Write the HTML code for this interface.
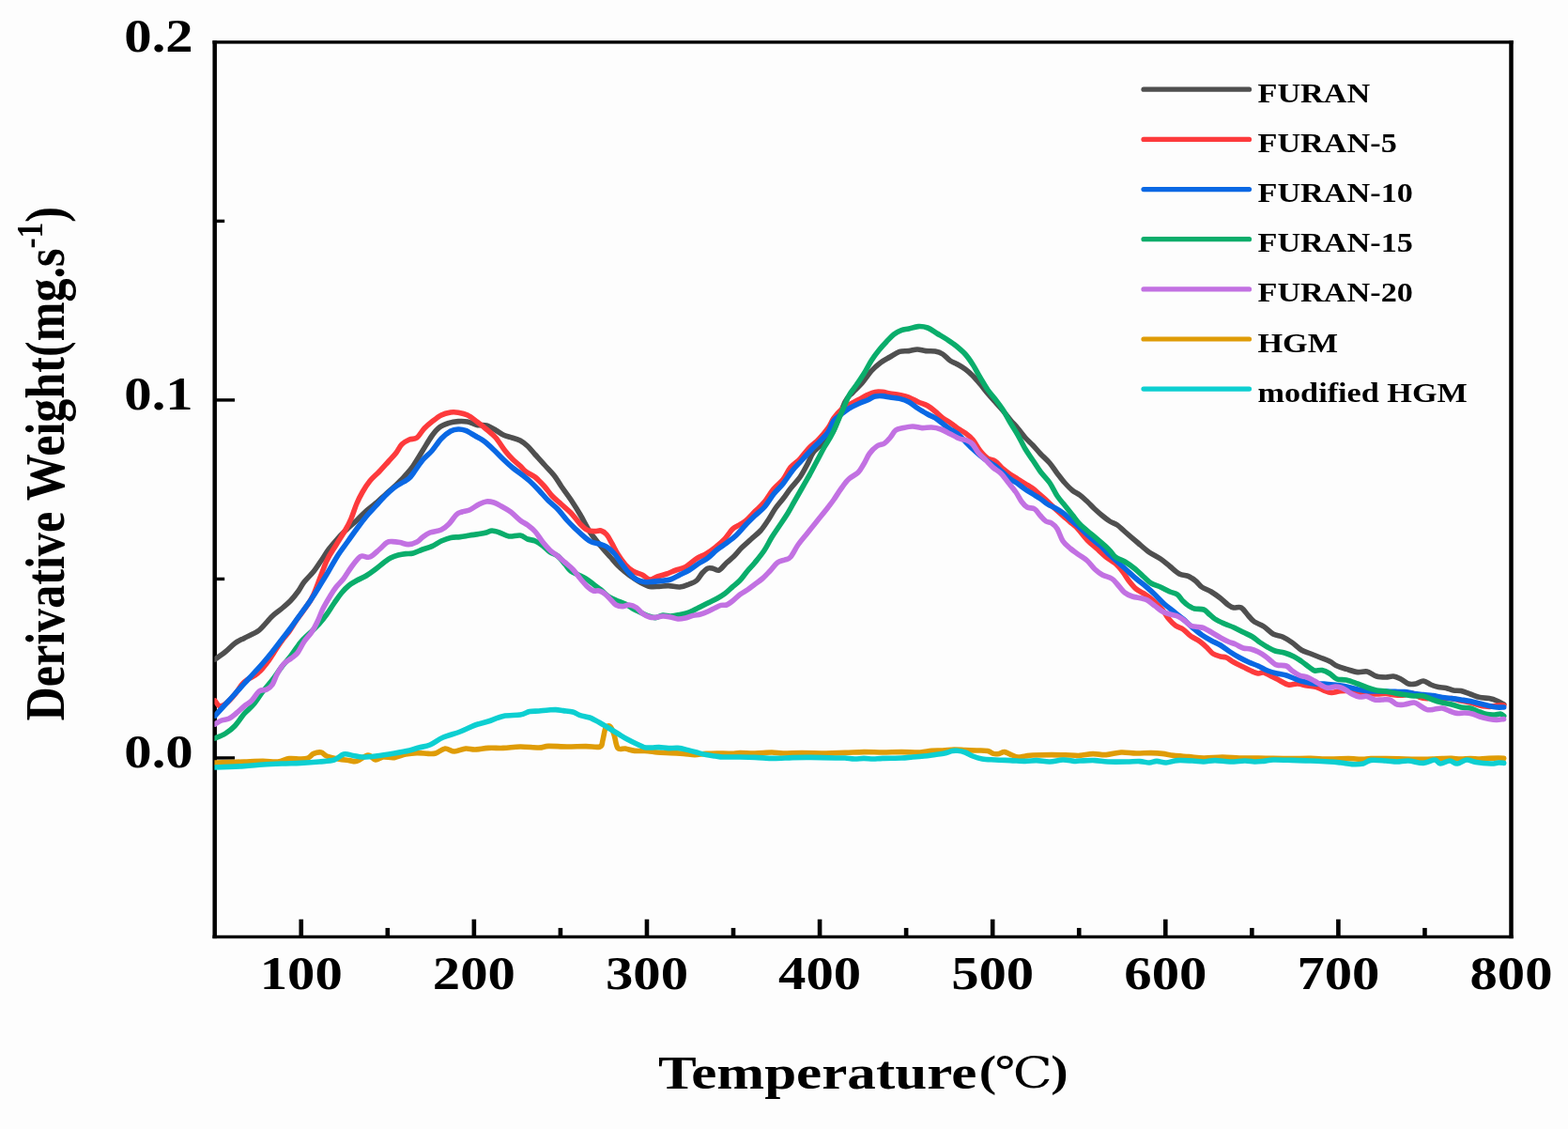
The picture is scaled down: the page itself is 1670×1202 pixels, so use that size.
<!DOCTYPE html>
<html lang="en"><head><meta charset="utf-8"><title>Derivative Weight vs Temperature</title>
<style>html,body{margin:0;padding:0;background:#fdfdfd;}body{width:1670px;height:1202px;overflow:hidden;}svg{display:block;}text{font-family:"Liberation Serif","Noto Serif CJK SC",serif;font-weight:bold;fill:#000;}</style></head><body>
<svg width="1670" height="1202" viewBox="0 0 1670 1202">
<rect width="1670" height="1202" fill="#fdfdfd"/>
<g fill="#000">
<rect x="226.45" y="43.20" width="4.50" height="955.95"/>
<rect x="1607.25" y="43.20" width="4.50" height="955.95"/>
<rect x="226.45" y="43.20" width="1385.30" height="3.40"/>
<rect x="226.45" y="995.75" width="1385.30" height="3.40"/>
<rect x="318.45" y="978.75" width="4.60" height="18.70"/>
<rect x="410.51" y="987.95" width="4.60" height="9.50"/>
<rect x="502.56" y="978.75" width="4.60" height="18.70"/>
<rect x="594.61" y="987.95" width="4.60" height="9.50"/>
<rect x="686.67" y="978.75" width="4.60" height="18.70"/>
<rect x="778.72" y="987.95" width="4.60" height="9.50"/>
<rect x="870.77" y="978.75" width="4.60" height="18.70"/>
<rect x="962.83" y="987.95" width="4.60" height="9.50"/>
<rect x="1054.88" y="978.75" width="4.60" height="18.70"/>
<rect x="1146.93" y="987.95" width="4.60" height="9.50"/>
<rect x="1238.99" y="978.75" width="4.60" height="18.70"/>
<rect x="1331.04" y="987.95" width="4.60" height="9.50"/>
<rect x="1423.09" y="978.75" width="4.60" height="18.70"/>
<rect x="1515.15" y="987.95" width="4.60" height="9.50"/>
<rect x="228.70" y="805.24" width="21.30" height="3.40"/>
<rect x="228.70" y="614.73" width="10.50" height="3.40"/>
<rect x="228.70" y="424.22" width="21.30" height="3.40"/>
<rect x="228.70" y="233.71" width="10.50" height="3.40"/>
</g>
<clipPath id="c"><rect x="228.4" y="44.9" width="1381.1" height="952.6"/></clipPath>
<g clip-path="url(#c)" fill="none" stroke-width="5.6" stroke-linejoin="round" stroke-linecap="round">
<path d="M229.0 702.0C230.8 700.7 236.5 696.8 240.0 694.0C243.5 691.2 246.7 687.4 250.0 685.0C253.3 682.6 256.0 681.5 260.0 679.4C264.0 677.3 270.7 674.5 274.0 672.4C277.3 670.3 277.3 669.7 280.0 667.0C282.7 664.3 286.7 659.2 290.0 656.0C293.3 652.8 296.8 650.8 300.0 648.0C303.2 645.2 306.5 642.7 309.5 639.5C312.5 636.3 315.6 632.3 318.0 629.0C320.4 625.7 321.3 622.9 324.0 619.5C326.7 616.1 331.0 612.2 334.0 608.5C337.0 604.8 339.3 600.9 342.0 597.0C344.7 593.1 347.0 589.0 350.0 585.0C353.0 581.0 356.7 576.7 360.0 573.0C363.3 569.3 366.7 566.2 370.0 563.0C373.3 559.8 376.7 557.2 380.0 554.0C383.3 550.8 386.7 547.0 390.0 544.0C393.3 541.0 396.7 538.8 400.0 536.0C403.3 533.2 406.7 530.0 410.0 527.0C413.3 524.0 416.7 521.2 420.0 518.0C423.3 514.8 426.7 511.7 430.0 508.0C433.3 504.3 436.7 500.7 440.0 496.0C443.3 491.3 446.7 485.3 450.0 480.0C453.3 474.7 457.0 468.2 460.0 464.0C463.0 459.8 465.0 457.3 468.0 455.0C471.0 452.7 474.7 451.5 478.0 450.4C481.3 449.3 484.7 448.8 488.0 448.6C491.3 448.4 494.7 448.4 498.0 449.0C501.3 449.6 504.7 451.7 508.0 452.4C511.3 453.1 514.7 452.1 518.0 453.0C521.3 453.9 525.0 456.3 528.0 458.0C531.0 459.7 533.3 461.7 536.0 463.0C538.7 464.3 541.0 464.6 544.0 465.6C547.0 466.6 551.0 467.4 554.0 469.0C557.0 470.6 559.3 472.5 562.0 475.0C564.7 477.5 567.0 480.7 570.0 484.0C573.0 487.3 576.7 491.3 580.0 495.0C583.3 498.7 587.0 502.2 590.0 506.0C593.0 509.8 595.0 513.7 598.0 518.0C601.0 522.3 604.7 527.0 608.0 532.0C611.3 537.0 614.7 542.3 618.0 548.0C621.3 553.7 625.3 561.7 628.0 566.0C630.7 570.3 631.7 571.0 634.0 574.0C636.3 577.0 639.3 580.8 642.0 584.0C644.7 587.2 647.3 590.0 650.0 593.0C652.7 596.0 655.3 599.3 658.0 602.0C660.7 604.7 663.3 606.8 666.0 609.0C668.7 611.2 671.3 613.2 674.0 615.0C676.7 616.8 679.0 618.4 682.0 620.0C685.0 621.6 688.7 623.7 692.0 624.4C695.3 625.1 698.7 624.5 702.0 624.4C705.3 624.3 708.3 623.5 712.0 623.6C715.7 623.7 720.3 625.3 724.0 625.0C727.7 624.7 731.0 623.2 734.0 622.0C737.0 620.8 739.7 620.0 742.0 618.0C744.3 616.0 746.0 612.2 748.0 610.0C750.0 607.8 752.0 605.8 754.0 605.0C756.0 604.2 758.0 605.1 760.0 605.4C762.0 605.7 763.7 608.1 766.0 607.0C768.3 605.9 771.3 601.5 774.0 599.0C776.7 596.5 779.3 594.7 782.0 592.0C784.7 589.3 787.0 586.0 790.0 583.0C793.0 580.0 796.7 577.0 800.0 574.0C803.3 571.0 807.0 568.3 810.0 565.0C813.0 561.7 815.3 558.0 818.0 554.0C820.7 550.0 823.3 544.8 826.0 541.0C828.7 537.2 831.3 534.5 834.0 531.0C836.7 527.5 839.0 523.8 842.0 520.0C845.0 516.2 849.0 512.3 852.0 508.0C855.0 503.7 857.7 498.3 860.0 494.0C862.3 489.7 863.7 485.3 866.0 482.0C868.3 478.7 871.3 477.0 874.0 474.0C876.7 471.0 879.7 466.7 882.0 464.0C884.3 461.3 885.0 464.0 888.0 458.0C891.0 452.0 896.7 434.7 900.0 428.0C903.3 421.3 905.0 421.3 908.0 418.0C911.0 414.7 914.7 411.8 918.0 408.0C921.3 404.2 924.7 398.7 928.0 395.0C931.3 391.3 934.7 388.5 938.0 386.0C941.3 383.5 944.7 381.9 948.0 380.0C951.3 378.1 954.7 375.5 958.0 374.4C961.3 373.3 964.8 374.0 968.0 373.6C971.2 373.2 974.0 372.0 977.0 372.0C980.0 372.0 982.8 373.3 986.0 373.6C989.2 373.9 993.0 373.4 996.0 374.0C999.0 374.6 1001.3 375.3 1004.0 377.0C1006.7 378.7 1009.3 382.2 1012.0 384.0C1014.7 385.8 1017.3 386.5 1020.0 388.0C1022.7 389.5 1025.3 391.0 1028.0 393.0C1030.7 395.0 1033.3 397.3 1036.0 400.0C1038.7 402.7 1041.3 405.8 1044.0 409.0C1046.7 412.2 1049.3 415.8 1052.0 419.0C1054.7 422.2 1057.3 425.0 1060.0 428.0C1062.7 431.0 1065.3 433.8 1068.0 437.0C1070.7 440.2 1073.3 443.8 1076.0 447.0C1078.7 450.2 1081.3 452.8 1084.0 456.0C1086.7 459.2 1089.3 463.0 1092.0 466.0C1094.7 469.0 1097.3 471.2 1100.0 474.0C1102.7 476.8 1105.0 479.8 1108.0 483.0C1111.0 486.2 1115.0 489.5 1118.0 493.0C1121.0 496.5 1123.3 500.5 1126.0 504.0C1128.7 507.5 1131.3 511.0 1134.0 514.0C1136.7 517.0 1139.3 519.8 1142.0 522.0C1144.7 524.2 1147.3 525.0 1150.0 527.0C1152.7 529.0 1155.3 531.5 1158.0 534.0C1160.7 536.5 1163.3 539.5 1166.0 542.0C1168.7 544.5 1171.3 546.8 1174.0 549.0C1176.7 551.2 1179.3 553.3 1182.0 555.0C1184.7 556.7 1187.3 557.2 1190.0 559.0C1192.7 560.8 1194.3 562.8 1198.0 566.0C1201.7 569.2 1207.7 574.3 1212.0 578.0C1216.3 581.7 1220.0 585.2 1224.0 588.0C1228.0 590.8 1232.3 592.5 1236.0 595.0C1239.7 597.5 1242.7 600.3 1246.0 603.0C1249.3 605.7 1252.7 609.2 1256.0 611.0C1259.3 612.8 1263.0 612.3 1266.0 613.6C1269.0 614.9 1271.7 617.1 1274.0 619.0C1276.3 620.9 1277.3 623.2 1280.0 625.0C1282.7 626.8 1286.7 628.0 1290.0 630.0C1293.3 632.0 1297.0 634.7 1300.0 637.0C1303.0 639.3 1305.7 642.3 1308.0 644.0C1310.3 645.7 1311.7 646.5 1314.0 647.0C1316.3 647.5 1319.3 645.5 1322.0 647.0C1324.7 648.5 1327.7 653.5 1330.0 656.0C1332.3 658.5 1333.3 660.2 1336.0 662.0C1338.7 663.8 1342.7 664.8 1346.0 667.0C1349.3 669.2 1352.7 673.2 1356.0 675.0C1359.3 676.8 1362.7 676.5 1366.0 678.0C1369.3 679.5 1372.7 681.7 1376.0 684.0C1379.3 686.3 1382.7 690.0 1386.0 692.0C1389.3 694.0 1392.7 694.7 1396.0 696.0C1399.3 697.3 1402.7 698.7 1406.0 700.0C1409.3 701.3 1413.0 702.5 1416.0 704.0C1419.0 705.5 1421.0 707.6 1424.0 709.0C1427.0 710.4 1430.3 711.3 1434.0 712.4C1437.7 713.5 1442.3 715.2 1446.0 715.6C1449.7 716.0 1452.7 714.3 1456.0 715.0C1459.3 715.7 1462.7 719.0 1466.0 720.0C1469.3 721.0 1473.0 721.0 1476.0 721.0C1479.0 721.0 1481.3 719.7 1484.0 720.0C1486.7 720.3 1489.3 721.7 1492.0 723.0C1494.7 724.3 1497.3 727.2 1500.0 728.0C1502.7 728.8 1505.3 728.5 1508.0 728.0C1510.7 727.5 1513.3 724.8 1516.0 725.0C1518.7 725.2 1521.3 727.9 1524.0 729.0C1526.7 730.1 1529.3 731.0 1532.0 731.6C1534.7 732.2 1537.3 731.8 1540.0 732.4C1542.7 733.0 1545.3 734.5 1548.0 735.0C1550.7 735.5 1553.0 734.9 1556.0 735.6C1559.0 736.3 1562.7 737.9 1566.0 739.0C1569.3 740.1 1572.7 741.6 1576.0 742.4C1579.3 743.2 1583.0 743.0 1586.0 743.6C1589.0 744.2 1591.4 744.9 1594.0 746.0C1596.6 747.1 1600.4 749.3 1601.7 750.0" stroke="#4f4f4f"/>
<path d="M229.0 746.0C229.8 746.9 231.8 751.0 233.6 751.6C235.4 752.2 237.3 751.6 240.0 749.6C242.7 747.6 247.0 743.0 250.0 739.4C253.0 735.8 255.7 730.9 258.0 728.2C260.3 725.5 261.7 724.8 264.0 723.2C266.3 721.6 269.8 720.3 272.0 718.8C274.2 717.3 275.7 715.7 277.0 714.4C278.3 713.1 278.5 713.0 280.0 711.2C281.5 709.4 284.3 705.9 286.0 703.6C287.7 701.3 288.7 699.7 290.0 697.6C291.3 695.5 292.2 694.0 294.0 691.2C295.8 688.4 298.7 684.1 301.0 681.0C303.3 677.9 305.5 675.9 308.0 672.4C310.5 668.9 313.3 663.9 316.0 660.0C318.7 656.1 321.0 653.5 324.0 649.0C327.0 644.5 330.1 641.6 334.0 633.0C337.9 624.4 343.8 606.3 347.7 597.6C351.6 589.0 354.1 586.6 357.5 581.0C360.9 575.4 365.2 568.8 368.0 564.0C370.8 559.2 372.0 556.7 374.0 552.0C376.0 547.3 378.0 540.7 380.0 536.0C382.0 531.3 383.7 528.0 386.0 524.0C388.3 520.0 391.0 515.7 394.0 512.0C397.0 508.3 400.7 505.5 404.0 502.0C407.3 498.5 411.0 494.3 414.0 491.0C417.0 487.7 419.7 485.0 422.0 482.0C424.3 479.0 425.7 475.3 428.0 473.0C430.3 470.7 433.3 469.2 436.0 468.0C438.7 466.8 441.3 468.0 444.0 466.0C446.7 464.0 449.3 458.8 452.0 456.0C454.7 453.2 457.0 451.3 460.0 449.0C463.0 446.7 466.7 443.7 470.0 442.0C473.3 440.3 477.0 439.5 480.0 439.0C483.0 438.5 485.0 438.7 488.0 439.2C491.0 439.7 494.7 440.4 498.0 442.0C501.3 443.6 504.7 446.5 508.0 449.0C511.3 451.5 514.7 454.2 518.0 457.0C521.3 459.8 524.7 462.2 528.0 466.0C531.3 469.8 535.0 476.2 538.0 480.0C541.0 483.8 543.3 486.3 546.0 489.0C548.7 491.7 551.7 493.8 554.0 496.0C556.3 498.2 557.3 500.0 560.0 502.0C562.7 504.0 566.7 505.3 570.0 508.0C573.3 510.7 577.0 514.7 580.0 518.0C583.0 521.3 585.0 524.8 588.0 528.0C591.0 531.2 594.7 534.0 598.0 537.0C601.3 540.0 604.7 542.5 608.0 546.0C611.3 549.5 615.0 554.9 618.0 558.0C621.0 561.1 623.3 563.3 626.0 564.6C628.7 565.9 631.7 565.5 634.0 565.6C636.3 565.7 638.0 564.4 640.0 565.0C642.0 565.6 644.0 566.7 646.0 569.0C648.0 571.3 650.0 575.5 652.0 579.0C654.0 582.5 655.7 586.3 658.0 590.0C660.3 593.7 663.3 598.0 666.0 601.0C668.7 604.0 671.0 606.2 674.0 608.0C677.0 609.8 681.0 610.5 684.0 612.0C687.0 613.5 689.3 616.7 692.0 617.0C694.7 617.3 697.0 615.0 700.0 614.0C703.0 613.0 706.7 612.2 710.0 611.0C713.3 609.8 716.7 608.2 720.0 607.0C723.3 605.8 726.3 605.7 730.0 603.6C733.7 601.5 738.3 596.9 742.0 594.6C745.7 592.3 748.7 591.6 752.0 589.6C755.3 587.6 758.7 585.3 762.0 582.6C765.3 579.9 769.0 576.8 772.0 573.6C775.0 570.4 777.7 565.9 780.0 563.6C782.3 561.3 783.7 561.1 786.0 559.6C788.3 558.1 791.0 557.1 794.0 554.6C797.0 552.1 800.7 547.9 804.0 544.6C807.3 541.3 810.7 538.6 814.0 534.6C817.3 530.6 820.7 524.6 824.0 520.6C827.3 516.6 831.0 514.4 834.0 510.6C837.0 506.8 839.0 501.3 842.0 497.6C845.0 493.9 848.7 492.1 852.0 488.6C855.3 485.1 858.7 480.1 862.0 476.6C865.3 473.1 868.7 471.1 872.0 467.6C875.3 464.1 879.3 459.3 882.0 455.6C884.7 451.9 885.7 448.4 888.0 445.2C890.3 442.0 893.3 438.6 896.0 436.2C898.7 433.8 901.0 432.7 904.0 431.0C907.0 429.3 910.7 427.6 914.0 425.8C917.3 424.0 921.0 421.8 924.0 420.4C927.0 419.0 929.3 417.9 932.0 417.4C934.7 416.9 937.3 417.1 940.0 417.4C942.7 417.7 945.0 418.5 948.0 419.0C951.0 419.5 954.7 419.7 958.0 420.4C961.3 421.1 964.7 421.7 968.0 423.0C971.3 424.3 974.7 426.5 978.0 428.0C981.3 429.5 985.0 430.3 988.0 432.0C991.0 433.7 993.3 435.8 996.0 438.0C998.7 440.2 1001.3 443.0 1004.0 445.0C1006.7 447.0 1009.3 448.2 1012.0 450.0C1014.7 451.8 1017.3 454.2 1020.0 456.0C1022.7 457.8 1025.3 459.0 1028.0 461.0C1030.7 463.0 1033.3 464.8 1036.0 468.0C1038.7 471.2 1041.3 476.7 1044.0 480.0C1046.7 483.3 1049.3 486.2 1052.0 488.0C1054.7 489.8 1057.3 489.2 1060.0 491.0C1062.7 492.8 1065.3 496.7 1068.0 499.0C1070.7 501.3 1073.3 503.2 1076.0 505.0C1078.7 506.8 1081.3 508.3 1084.0 510.0C1086.7 511.7 1089.3 513.3 1092.0 515.0C1094.7 516.7 1097.3 518.0 1100.0 520.0C1102.7 522.0 1105.3 524.7 1108.0 527.0C1110.7 529.3 1113.3 531.5 1116.0 534.0C1118.7 536.5 1121.3 539.5 1124.0 542.0C1126.7 544.5 1129.3 546.7 1132.0 549.0C1134.7 551.3 1137.3 553.7 1140.0 556.0C1142.7 558.3 1145.0 559.8 1148.0 563.0C1151.0 566.2 1154.7 571.5 1158.0 575.0C1161.3 578.5 1164.7 581.0 1168.0 584.0C1171.3 587.0 1174.7 590.3 1178.0 593.0C1181.3 595.7 1185.0 597.3 1188.0 600.0C1191.0 602.7 1193.7 606.0 1196.0 609.0C1198.3 612.0 1199.7 615.0 1202.0 618.0C1204.3 621.0 1207.0 624.5 1210.0 627.0C1213.0 629.5 1217.0 631.0 1220.0 633.0C1223.0 635.0 1225.0 636.3 1228.0 639.0C1231.0 641.7 1235.3 645.8 1238.0 649.0C1240.7 652.2 1241.7 655.2 1244.0 658.0C1246.3 660.8 1249.3 664.0 1252.0 666.0C1254.7 668.0 1257.3 668.2 1260.0 670.0C1262.7 671.8 1265.0 674.8 1268.0 677.0C1271.0 679.2 1275.0 680.8 1278.0 683.0C1281.0 685.2 1283.7 687.8 1286.0 690.0C1288.3 692.2 1289.7 694.5 1292.0 696.0C1294.3 697.5 1297.7 698.3 1300.0 699.0C1302.3 699.7 1303.7 699.0 1306.0 700.0C1308.3 701.0 1311.0 703.3 1314.0 705.0C1317.0 706.7 1321.0 708.5 1324.0 710.0C1327.0 711.5 1329.3 712.8 1332.0 714.0C1334.7 715.2 1337.7 716.7 1340.0 717.0C1342.3 717.3 1343.7 715.5 1346.0 716.0C1348.3 716.5 1351.3 718.7 1354.0 720.0C1356.7 721.3 1359.0 722.5 1362.0 724.0C1365.0 725.5 1368.7 728.3 1372.0 729.0C1375.3 729.7 1378.7 727.8 1382.0 728.0C1385.3 728.2 1388.7 729.4 1392.0 730.0C1395.3 730.6 1399.0 730.8 1402.0 731.6C1405.0 732.4 1407.3 734.0 1410.0 735.0C1412.7 736.0 1415.3 737.2 1418.0 737.4C1420.7 737.6 1423.2 736.3 1426.0 736.0C1428.8 735.7 1431.7 735.2 1435.0 735.5C1438.3 735.8 1442.5 737.2 1446.0 737.6C1449.5 738.0 1452.7 737.8 1456.0 738.0C1459.3 738.2 1462.7 738.9 1466.0 739.0C1469.3 739.1 1472.7 738.2 1476.0 738.4C1479.3 738.6 1482.7 739.7 1486.0 740.0C1489.3 740.3 1493.0 740.3 1496.0 740.0C1499.0 739.7 1501.3 737.6 1504.0 738.0C1506.7 738.4 1509.3 741.5 1512.0 742.4C1514.7 743.3 1517.3 743.5 1520.0 743.6C1522.7 743.7 1525.3 742.9 1528.0 743.0C1530.7 743.1 1533.0 743.9 1536.0 744.0C1539.0 744.1 1542.7 743.3 1546.0 743.6C1549.3 743.9 1552.7 745.3 1556.0 746.0C1559.3 746.7 1562.7 747.2 1566.0 748.0C1569.3 748.8 1572.7 750.3 1576.0 751.0C1579.3 751.7 1582.7 752.4 1586.0 752.4C1589.3 752.4 1593.4 751.2 1596.0 751.0C1598.6 750.8 1600.8 751.0 1601.7 751.0" stroke="#fd3a3c"/>
<path d="M229.0 762.0C230.8 760.0 236.5 753.8 240.0 750.0C243.5 746.2 246.7 742.7 250.0 739.0C253.3 735.3 256.7 731.7 260.0 728.0C263.3 724.3 266.7 720.7 270.0 717.0C273.3 713.3 276.7 709.8 280.0 706.0C283.3 702.2 286.7 698.2 290.0 694.0C293.3 689.8 296.7 685.3 300.0 681.0C303.3 676.7 306.7 672.5 310.0 668.0C313.3 663.5 316.6 658.8 320.0 654.0C323.4 649.2 327.2 644.4 330.5 639.5C333.8 634.6 336.8 629.8 340.0 624.5C343.2 619.2 346.7 613.6 350.0 608.0C353.3 602.4 356.7 596.2 360.0 591.0C363.3 585.8 366.7 581.7 370.0 577.0C373.3 572.3 376.7 567.5 380.0 563.0C383.3 558.5 386.7 554.0 390.0 550.0C393.3 546.0 396.7 542.7 400.0 539.0C403.3 535.3 406.7 531.3 410.0 528.0C413.3 524.7 416.7 521.5 420.0 519.0C423.3 516.5 427.3 514.7 430.0 513.0C432.7 511.3 434.3 510.5 436.0 509.0C437.7 507.5 437.7 507.2 440.0 504.0C442.3 500.8 446.7 494.0 450.0 490.0C453.3 486.0 456.7 483.8 460.0 480.0C463.3 476.2 466.7 470.5 470.0 467.0C473.3 463.5 477.0 460.7 480.0 459.0C483.0 457.3 485.3 457.1 488.0 457.0C490.7 456.9 493.0 457.2 496.0 458.4C499.0 459.6 502.7 462.1 506.0 464.0C509.3 465.9 512.7 467.5 516.0 470.0C519.3 472.5 522.7 475.8 526.0 479.0C529.3 482.2 532.7 485.8 536.0 489.0C539.3 492.2 543.0 495.5 546.0 498.0C549.0 500.5 551.0 501.7 554.0 504.0C557.0 506.3 560.7 509.0 564.0 512.0C567.3 515.0 570.7 518.5 574.0 522.0C577.3 525.5 580.7 529.7 584.0 533.0C587.3 536.3 590.7 538.5 594.0 542.0C597.3 545.5 600.7 550.3 604.0 554.0C607.3 557.7 610.7 560.8 614.0 564.0C617.3 567.2 621.3 570.8 624.0 573.0C626.7 575.2 627.7 576.0 630.0 577.0C632.3 578.0 635.3 578.2 638.0 579.0C640.7 579.8 643.3 580.3 646.0 582.0C648.7 583.7 651.3 586.0 654.0 589.0C656.7 592.0 659.3 596.5 662.0 600.0C664.7 603.5 667.3 607.2 670.0 610.0C672.7 612.8 675.3 615.4 678.0 617.0C680.7 618.6 683.3 619.2 686.0 619.6C688.7 620.0 691.0 619.6 694.0 619.4C697.0 619.2 700.7 618.8 704.0 618.4C707.3 618.0 710.7 618.1 714.0 617.0C717.3 615.9 720.7 613.7 724.0 612.0C727.3 610.3 730.7 609.0 734.0 607.0C737.3 605.0 740.7 602.2 744.0 600.0C747.3 597.8 750.7 596.5 754.0 594.0C757.3 591.5 760.7 587.7 764.0 585.0C767.3 582.3 770.7 580.5 774.0 578.0C777.3 575.5 780.7 573.2 784.0 570.0C787.3 566.8 790.7 562.5 794.0 559.0C797.3 555.5 800.7 552.2 804.0 549.0C807.3 545.8 810.7 543.8 814.0 540.0C817.3 536.2 820.7 530.2 824.0 526.0C827.3 521.8 830.7 519.2 834.0 515.0C837.3 510.8 840.7 505.2 844.0 501.0C847.3 496.8 850.7 493.7 854.0 490.0C857.3 486.3 860.7 482.5 864.0 479.0C867.3 475.5 871.0 472.2 874.0 469.0C877.0 465.8 879.7 463.5 882.0 460.0C884.3 456.5 885.7 451.2 888.0 448.0C890.3 444.8 893.3 443.2 896.0 441.0C898.7 438.8 901.0 436.8 904.0 435.0C907.0 433.2 910.7 431.5 914.0 430.0C917.3 428.5 921.0 427.3 924.0 426.0C927.0 424.7 929.3 422.7 932.0 422.0C934.7 421.3 937.3 421.4 940.0 421.6C942.7 421.8 945.0 422.5 948.0 423.0C951.0 423.5 954.7 423.6 958.0 424.4C961.3 425.2 964.7 426.2 968.0 428.0C971.3 429.8 974.7 432.8 978.0 435.0C981.3 437.2 985.0 439.3 988.0 441.0C991.0 442.7 993.3 443.3 996.0 445.0C998.7 446.7 1001.3 449.0 1004.0 451.0C1006.7 453.0 1009.3 455.2 1012.0 457.0C1014.7 458.8 1017.3 459.8 1020.0 462.0C1022.7 464.2 1025.3 467.3 1028.0 470.0C1030.7 472.7 1033.3 475.5 1036.0 478.0C1038.7 480.5 1041.3 482.8 1044.0 485.0C1046.7 487.2 1049.3 489.2 1052.0 491.0C1054.7 492.8 1057.3 494.0 1060.0 496.0C1062.7 498.0 1065.3 500.7 1068.0 503.0C1070.7 505.3 1073.3 508.0 1076.0 510.0C1078.7 512.0 1081.3 513.2 1084.0 515.0C1086.7 516.8 1089.3 519.2 1092.0 521.0C1094.7 522.8 1097.3 524.3 1100.0 526.0C1102.7 527.7 1105.3 529.2 1108.0 531.0C1110.7 532.8 1113.3 535.3 1116.0 537.0C1118.7 538.7 1121.3 539.5 1124.0 541.0C1126.7 542.5 1129.3 544.0 1132.0 546.0C1134.7 548.0 1137.3 550.7 1140.0 553.0C1142.7 555.3 1144.3 556.7 1148.0 560.0C1151.7 563.3 1158.0 569.5 1162.0 573.0C1166.0 576.5 1168.7 578.0 1172.0 581.0C1175.3 584.0 1179.0 588.2 1182.0 591.0C1185.0 593.8 1187.0 595.3 1190.0 598.0C1193.0 600.7 1196.7 604.0 1200.0 607.0C1203.3 610.0 1206.7 613.2 1210.0 616.0C1213.3 618.8 1216.7 621.2 1220.0 624.0C1223.3 626.8 1226.7 629.8 1230.0 633.0C1233.3 636.2 1236.7 640.0 1240.0 643.0C1243.3 646.0 1246.7 648.3 1250.0 651.0C1253.3 653.7 1256.7 656.2 1260.0 659.0C1263.3 661.8 1266.7 665.2 1270.0 668.0C1273.3 670.8 1276.7 673.7 1280.0 676.0C1283.3 678.3 1286.7 680.2 1290.0 682.0C1293.3 683.8 1296.7 685.0 1300.0 687.0C1303.3 689.0 1306.7 691.8 1310.0 694.0C1313.3 696.2 1316.7 698.2 1320.0 700.0C1323.3 701.8 1326.7 703.5 1330.0 705.0C1333.3 706.5 1336.7 707.5 1340.0 709.0C1343.3 710.5 1346.7 712.7 1350.0 714.0C1353.3 715.3 1356.7 716.2 1360.0 717.0C1363.3 717.8 1366.7 718.0 1370.0 719.0C1373.3 720.0 1376.7 721.8 1380.0 723.0C1383.3 724.2 1386.7 725.2 1390.0 726.0C1393.3 726.8 1396.7 727.7 1400.0 728.0C1403.3 728.3 1406.7 727.8 1410.0 728.0C1413.3 728.2 1416.0 728.5 1420.0 729.0C1424.0 729.5 1429.7 730.2 1434.0 731.0C1438.3 731.8 1442.3 733.2 1446.0 734.0C1449.7 734.8 1452.7 735.3 1456.0 735.6C1459.3 735.9 1462.7 735.9 1466.0 736.0C1469.3 736.1 1472.7 735.9 1476.0 736.0C1479.3 736.1 1482.7 736.3 1486.0 736.4C1489.3 736.5 1492.7 736.3 1496.0 736.6C1499.3 736.9 1502.7 737.9 1506.0 738.4C1509.3 738.9 1512.7 739.2 1516.0 739.6C1519.3 740.0 1522.7 740.1 1526.0 740.6C1529.3 741.1 1532.7 741.9 1536.0 742.4C1539.3 742.9 1542.7 743.2 1546.0 743.6C1549.3 744.0 1552.7 744.5 1556.0 745.0C1559.3 745.5 1562.7 745.9 1566.0 746.6C1569.3 747.3 1572.7 748.2 1576.0 749.0C1579.3 749.8 1583.0 750.9 1586.0 751.6C1589.0 752.3 1591.4 752.8 1594.0 753.0C1596.6 753.2 1600.4 753.0 1601.7 753.0" stroke="#0a68e4"/>
<path d="M229.0 786.0C230.8 785.2 236.5 783.2 240.0 781.0C243.5 778.8 246.7 776.5 250.0 773.0C253.3 769.5 256.7 763.8 260.0 760.0C263.3 756.2 266.7 754.0 270.0 750.0C273.3 746.0 276.7 740.3 280.0 736.0C283.3 731.7 286.7 728.3 290.0 724.0C293.3 719.7 296.7 714.3 300.0 710.0C303.3 705.7 306.7 702.3 310.0 698.0C313.3 693.7 316.7 688.0 320.0 684.0C323.3 680.0 326.7 677.3 330.0 674.0C333.3 670.7 337.0 667.3 340.0 664.0C343.0 660.7 345.3 657.7 348.0 654.0C350.7 650.3 353.3 645.8 356.0 642.0C358.7 638.2 361.3 634.2 364.0 631.0C366.7 627.8 369.3 625.2 372.0 623.0C374.7 620.8 377.0 619.7 380.0 618.0C383.0 616.3 386.7 615.0 390.0 613.0C393.3 611.0 396.7 608.5 400.0 606.0C403.3 603.5 407.3 600.0 410.0 598.0C412.7 596.0 413.7 595.2 416.0 594.0C418.3 592.8 421.3 591.7 424.0 591.0C426.7 590.3 429.3 589.9 432.0 589.6C434.7 589.3 437.0 589.8 440.0 589.0C443.0 588.2 446.7 586.2 450.0 585.0C453.3 583.8 456.7 583.1 460.0 581.6C463.3 580.1 466.7 577.5 470.0 576.0C473.3 574.5 476.7 573.1 480.0 572.4C483.3 571.7 486.7 572.0 490.0 571.6C493.3 571.2 496.7 570.5 500.0 570.0C503.3 569.5 507.0 569.1 510.0 568.6C513.0 568.1 515.7 567.6 518.0 567.0C520.3 566.4 521.7 565.0 524.0 565.0C526.3 565.0 529.0 566.0 532.0 567.0C535.0 568.0 538.3 570.5 542.0 571.0C545.7 571.5 550.7 569.5 554.0 570.0C557.3 570.5 559.3 573.0 562.0 574.0C564.7 575.0 567.3 574.8 570.0 576.0C572.7 577.2 575.3 579.0 578.0 581.0C580.7 583.0 583.3 586.2 586.0 588.0C588.7 589.8 591.3 589.8 594.0 592.0C596.7 594.2 599.7 598.3 602.0 601.0C604.3 603.7 605.7 606.2 608.0 608.0C610.3 609.8 613.3 610.7 616.0 612.0C618.7 613.3 621.3 614.3 624.0 616.0C626.7 617.7 629.3 620.0 632.0 622.0C634.7 624.0 637.3 625.8 640.0 628.0C642.7 630.2 645.3 633.2 648.0 635.0C650.7 636.8 653.0 637.7 656.0 639.0C659.0 640.3 663.0 641.5 666.0 643.0C669.0 644.5 671.3 646.5 674.0 648.0C676.7 649.5 679.3 650.7 682.0 652.0C684.7 653.3 687.3 654.7 690.0 655.6C692.7 656.5 695.3 657.7 698.0 657.6C700.7 657.5 703.3 655.3 706.0 655.0C708.7 654.7 711.0 656.1 714.0 656.0C717.0 655.9 720.7 655.1 724.0 654.4C727.3 653.7 730.7 653.2 734.0 652.0C737.3 650.8 740.7 648.7 744.0 647.0C747.3 645.3 750.7 643.7 754.0 642.0C757.3 640.3 761.0 638.7 764.0 637.0C767.0 635.3 769.3 634.0 772.0 632.0C774.7 630.0 777.3 627.3 780.0 625.0C782.7 622.7 785.3 620.8 788.0 618.0C790.7 615.2 793.3 611.2 796.0 608.0C798.7 604.8 801.0 602.7 804.0 599.0C807.0 595.3 811.0 590.5 814.0 586.0C817.0 581.5 819.3 576.3 822.0 572.0C824.7 567.7 827.3 564.0 830.0 560.0C832.7 556.0 835.3 552.3 838.0 548.0C840.7 543.7 843.3 538.7 846.0 534.0C848.7 529.3 851.3 524.7 854.0 520.0C856.7 515.3 859.3 510.8 862.0 506.0C864.7 501.2 867.3 496.0 870.0 491.0C872.7 486.0 875.2 481.0 878.0 476.0C880.8 471.0 883.5 467.7 886.8 461.0C890.1 454.3 894.6 442.8 897.6 436.0C900.6 429.2 902.4 424.3 904.8 420.0C907.2 415.7 909.5 413.7 912.0 410.0C914.5 406.3 917.3 402.3 920.0 398.0C922.7 393.7 925.3 388.2 928.0 384.0C930.7 379.8 933.3 376.3 936.0 373.0C938.7 369.7 941.3 366.8 944.0 364.0C946.7 361.2 949.3 358.1 952.0 356.0C954.7 353.9 957.3 352.6 960.0 351.6C962.7 350.6 965.0 350.7 968.0 350.0C971.0 349.3 974.7 347.8 978.0 347.6C981.3 347.4 984.7 347.8 988.0 349.0C991.3 350.2 994.7 353.0 998.0 355.0C1001.3 357.0 1004.7 358.8 1008.0 361.0C1011.3 363.2 1014.7 365.3 1018.0 368.0C1021.3 370.7 1025.0 373.7 1028.0 377.0C1031.0 380.3 1033.3 383.8 1036.0 388.0C1038.7 392.2 1041.3 397.5 1044.0 402.0C1046.7 406.5 1049.3 411.2 1052.0 415.0C1054.7 418.8 1057.3 421.5 1060.0 425.0C1062.7 428.5 1065.3 431.8 1068.0 436.0C1070.7 440.2 1073.3 445.5 1076.0 450.0C1078.7 454.5 1081.3 458.3 1084.0 463.0C1086.7 467.7 1089.3 473.5 1092.0 478.0C1094.7 482.5 1097.3 486.0 1100.0 490.0C1102.7 494.0 1105.0 498.0 1108.0 502.0C1111.0 506.0 1115.0 509.7 1118.0 514.0C1121.0 518.3 1123.3 524.0 1126.0 528.0C1128.7 532.0 1131.3 534.7 1134.0 538.0C1136.7 541.3 1139.3 544.7 1142.0 548.0C1144.7 551.3 1147.3 555.2 1150.0 558.0C1152.7 560.8 1153.0 560.7 1158.0 565.0C1163.0 569.3 1175.0 579.3 1180.0 584.0C1185.0 588.7 1185.0 590.7 1188.0 593.0C1191.0 595.3 1194.7 596.0 1198.0 598.0C1201.3 600.0 1204.7 602.3 1208.0 605.0C1211.3 607.7 1215.0 611.3 1218.0 614.0C1221.0 616.7 1223.0 619.2 1226.0 621.0C1229.0 622.8 1232.7 623.5 1236.0 625.0C1239.3 626.5 1243.0 628.7 1246.0 630.0C1249.0 631.3 1251.7 631.3 1254.0 633.0C1256.3 634.7 1258.0 638.0 1260.0 640.0C1262.0 642.0 1264.0 643.7 1266.0 645.0C1268.0 646.3 1269.3 647.3 1272.0 648.0C1274.7 648.7 1279.3 648.0 1282.0 649.0C1284.7 650.0 1286.0 652.3 1288.0 654.0C1290.0 655.7 1291.3 657.3 1294.0 659.0C1296.7 660.7 1300.7 662.5 1304.0 664.0C1307.3 665.5 1310.7 666.5 1314.0 668.0C1317.3 669.5 1320.7 671.3 1324.0 673.0C1327.3 674.7 1331.0 676.2 1334.0 678.0C1337.0 679.8 1339.3 682.2 1342.0 684.0C1344.7 685.8 1347.3 687.5 1350.0 689.0C1352.7 690.5 1355.0 692.0 1358.0 693.0C1361.0 694.0 1364.7 694.0 1368.0 695.0C1371.3 696.0 1375.0 697.5 1378.0 699.0C1381.0 700.5 1383.3 702.2 1386.0 704.0C1388.7 705.8 1391.7 708.3 1394.0 710.0C1396.3 711.7 1397.7 713.4 1400.0 714.0C1402.3 714.6 1405.3 713.1 1408.0 713.6C1410.7 714.1 1413.3 715.4 1416.0 717.0C1418.7 718.6 1421.0 721.8 1424.0 723.0C1427.0 724.2 1430.3 723.2 1434.0 724.0C1437.7 724.8 1442.3 726.7 1446.0 728.0C1449.7 729.3 1452.7 730.8 1456.0 732.0C1459.3 733.2 1462.7 734.3 1466.0 735.0C1469.3 735.7 1472.7 735.5 1476.0 736.0C1479.3 736.5 1482.7 737.4 1486.0 738.0C1489.3 738.6 1492.7 739.1 1496.0 739.6C1499.3 740.1 1502.7 740.8 1506.0 741.0C1509.3 741.2 1512.7 740.3 1516.0 741.0C1519.3 741.7 1522.7 743.8 1526.0 745.0C1529.3 746.2 1532.7 747.2 1536.0 748.0C1539.3 748.8 1542.7 749.2 1546.0 750.0C1549.3 750.8 1552.7 752.3 1556.0 753.0C1559.3 753.7 1562.7 753.2 1566.0 754.0C1569.3 754.8 1573.0 756.9 1576.0 758.0C1579.0 759.1 1581.3 760.1 1584.0 760.6C1586.7 761.1 1589.7 761.1 1592.0 761.0C1594.3 760.9 1596.4 759.8 1598.0 760.0C1599.6 760.2 1601.1 762.0 1601.7 762.4" stroke="#0aad6b"/>
<path d="M229.0 771.0C230.2 770.3 233.5 768.0 236.0 767.0C238.5 766.0 241.3 766.3 244.0 765.0C246.7 763.7 249.3 761.2 252.0 759.0C254.7 756.8 257.3 754.2 260.0 752.0C262.7 749.8 265.3 748.7 268.0 746.0C270.7 743.3 273.3 738.0 276.0 736.0C278.7 734.0 281.7 735.2 284.0 734.0C286.3 732.8 288.2 731.7 290.0 729.0C291.8 726.3 293.0 721.7 295.0 718.0C297.0 714.3 299.5 709.8 302.0 707.0C304.5 704.2 307.5 703.0 310.0 701.0C312.5 699.0 314.7 698.0 317.0 695.0C319.3 692.0 321.5 686.7 324.0 683.0C326.5 679.3 329.7 676.5 332.0 673.0C334.3 669.5 336.0 666.2 338.0 662.0C340.0 657.8 341.7 652.7 344.0 648.0C346.3 643.3 349.7 637.8 352.0 634.0C354.3 630.2 355.7 628.0 358.0 625.0C360.3 622.0 363.3 619.5 366.0 616.0C368.7 612.5 371.3 607.7 374.0 604.0C376.7 600.3 380.0 596.0 382.0 594.0C384.0 592.0 384.0 592.2 386.0 592.0C388.0 591.8 391.0 594.2 394.0 593.0C397.0 591.8 401.0 587.6 404.0 585.0C407.0 582.4 409.7 579.0 412.0 577.6C414.3 576.2 415.7 576.6 418.0 576.6C420.3 576.6 423.2 577.1 426.0 577.6C428.8 578.1 432.0 579.7 435.0 579.6C438.0 579.5 441.5 578.3 444.0 577.0C446.5 575.7 447.7 573.7 450.0 572.0C452.3 570.3 454.7 568.3 458.0 567.0C461.3 565.7 466.7 565.5 470.0 564.0C473.3 562.5 475.3 560.7 478.0 558.0C480.7 555.3 483.7 550.2 486.0 548.0C488.3 545.8 489.7 545.8 492.0 545.0C494.3 544.2 497.0 544.3 500.0 543.0C503.0 541.7 507.0 538.5 510.0 537.0C513.0 535.5 515.3 534.3 518.0 534.0C520.7 533.7 523.3 534.2 526.0 535.0C528.7 535.8 531.0 537.3 534.0 539.0C537.0 540.7 540.7 542.5 544.0 545.0C547.3 547.5 551.0 551.7 554.0 554.0C557.0 556.3 559.3 557.0 562.0 559.0C564.7 561.0 567.3 563.0 570.0 566.0C572.7 569.0 575.3 573.7 578.0 577.0C580.7 580.3 583.3 583.5 586.0 586.0C588.7 588.5 591.3 589.8 594.0 592.0C596.7 594.2 599.3 596.7 602.0 599.0C604.7 601.3 607.3 603.2 610.0 606.0C612.7 608.8 615.3 612.8 618.0 616.0C620.7 619.2 623.7 622.8 626.0 625.0C628.3 627.2 630.0 628.3 632.0 629.0C634.0 629.7 636.0 628.5 638.0 629.0C640.0 629.5 642.0 630.5 644.0 632.0C646.0 633.5 648.0 636.0 650.0 638.0C652.0 640.0 653.8 642.7 656.0 644.0C658.2 645.3 660.7 645.6 663.0 645.6C665.3 645.6 667.5 643.8 670.0 644.0C672.5 644.2 675.7 645.5 678.0 647.0C680.3 648.5 681.7 651.3 684.0 653.0C686.3 654.7 689.7 656.3 692.0 657.0C694.3 657.7 695.7 657.6 698.0 657.4C700.3 657.2 703.3 656.1 706.0 656.0C708.7 655.9 711.3 656.5 714.0 657.0C716.7 657.5 719.3 658.8 722.0 659.0C724.7 659.2 727.3 658.6 730.0 658.0C732.7 657.4 735.3 656.1 738.0 655.4C740.7 654.7 743.3 654.7 746.0 654.0C748.7 653.3 751.3 652.2 754.0 651.0C756.7 649.8 759.7 648.1 762.0 647.0C764.3 645.9 766.0 644.9 768.0 644.4C770.0 643.9 772.0 644.7 774.0 644.0C776.0 643.3 777.7 641.8 780.0 640.0C782.3 638.2 785.3 635.0 788.0 633.0C790.7 631.0 793.3 629.8 796.0 628.0C798.7 626.2 801.3 624.0 804.0 622.0C806.7 620.0 809.3 618.3 812.0 616.0C814.7 613.7 817.3 610.8 820.0 608.0C822.7 605.2 825.3 601.0 828.0 599.0C830.7 597.0 833.7 597.0 836.0 596.0C838.3 595.0 839.7 595.7 842.0 593.0C844.3 590.3 847.3 583.8 850.0 580.0C852.7 576.2 855.3 573.3 858.0 570.0C860.7 566.7 863.3 563.3 866.0 560.0C868.7 556.7 871.3 553.3 874.0 550.0C876.7 546.7 879.7 543.0 882.0 540.0C884.3 537.0 885.7 535.3 888.0 532.0C890.3 528.7 893.3 523.7 896.0 520.0C898.7 516.3 901.0 512.8 904.0 510.0C907.0 507.2 911.3 505.7 914.0 503.0C916.7 500.3 918.0 497.3 920.0 494.0C922.0 490.7 923.7 486.2 926.0 483.0C928.3 479.8 931.3 476.8 934.0 475.0C936.7 473.2 939.7 473.5 942.0 472.0C944.3 470.5 946.0 468.3 948.0 466.0C950.0 463.7 951.7 459.7 954.0 458.0C956.3 456.3 959.0 456.3 962.0 455.6C965.0 454.9 968.7 454.0 972.0 454.0C975.3 454.0 978.7 455.4 982.0 455.6C985.3 455.8 988.7 454.8 992.0 455.0C995.3 455.2 998.7 455.8 1002.0 457.0C1005.3 458.2 1008.7 460.3 1012.0 462.0C1015.3 463.7 1019.0 465.8 1022.0 467.0C1025.0 468.2 1027.7 468.0 1030.0 469.0C1032.3 470.0 1034.0 470.8 1036.0 473.0C1038.0 475.2 1039.7 479.2 1042.0 482.0C1044.3 484.8 1047.3 487.3 1050.0 490.0C1052.7 492.7 1055.3 495.7 1058.0 498.0C1060.7 500.3 1063.3 501.3 1066.0 504.0C1068.7 506.7 1071.3 510.7 1074.0 514.0C1076.7 517.3 1079.7 520.7 1082.0 524.0C1084.3 527.3 1086.0 531.3 1088.0 534.0C1090.0 536.7 1091.7 538.7 1094.0 540.0C1096.3 541.3 1099.7 540.5 1102.0 542.0C1104.3 543.5 1106.0 546.8 1108.0 549.0C1110.0 551.2 1112.0 553.7 1114.0 555.0C1116.0 556.3 1118.0 555.7 1120.0 557.0C1122.0 558.3 1124.0 559.8 1126.0 563.0C1128.0 566.2 1129.7 572.5 1132.0 576.0C1134.3 579.5 1137.3 581.7 1140.0 584.0C1142.7 586.3 1145.0 587.8 1148.0 590.0C1151.0 592.2 1155.0 594.3 1158.0 597.0C1161.0 599.7 1163.3 603.5 1166.0 606.0C1168.7 608.5 1171.0 610.3 1174.0 612.0C1177.0 613.7 1181.3 614.3 1184.0 616.0C1186.7 617.7 1187.7 619.5 1190.0 622.0C1192.3 624.5 1195.3 628.8 1198.0 631.0C1200.7 633.2 1203.0 634.0 1206.0 635.0C1209.0 636.0 1213.3 636.3 1216.0 637.0C1218.7 637.7 1219.7 637.7 1222.0 639.0C1224.3 640.3 1227.3 643.0 1230.0 645.0C1232.7 647.0 1235.3 649.5 1238.0 651.0C1240.7 652.5 1243.3 653.2 1246.0 654.0C1248.7 654.8 1251.3 654.8 1254.0 656.0C1256.7 657.2 1259.7 659.3 1262.0 661.0C1264.3 662.7 1265.7 664.9 1268.0 666.0C1270.3 667.1 1273.7 667.2 1276.0 667.6C1278.3 668.0 1279.7 667.7 1282.0 668.6C1284.3 669.5 1287.0 671.3 1290.0 673.0C1293.0 674.7 1297.0 677.3 1300.0 679.0C1303.0 680.7 1305.3 681.8 1308.0 683.0C1310.7 684.2 1313.3 684.8 1316.0 686.0C1318.7 687.2 1321.3 689.2 1324.0 690.0C1326.7 690.8 1329.3 690.3 1332.0 691.0C1334.7 691.7 1337.3 692.7 1340.0 694.0C1342.7 695.3 1345.7 697.3 1348.0 699.0C1350.3 700.7 1352.0 702.5 1354.0 704.0C1356.0 705.5 1357.3 707.2 1360.0 708.0C1362.7 708.8 1367.3 708.0 1370.0 709.0C1372.7 710.0 1373.7 712.3 1376.0 714.0C1378.3 715.7 1381.3 717.8 1384.0 719.0C1386.7 720.2 1389.3 720.0 1392.0 721.0C1394.7 722.0 1397.3 723.5 1400.0 725.0C1402.7 726.5 1405.7 728.8 1408.0 730.0C1410.3 731.2 1411.7 732.2 1414.0 732.4C1416.3 732.6 1419.7 731.1 1422.0 731.0C1424.3 730.9 1426.0 731.3 1428.0 732.0C1430.0 732.7 1432.0 733.8 1434.0 735.0C1436.0 736.2 1437.7 737.8 1440.0 739.0C1442.3 740.2 1445.3 741.6 1448.0 742.0C1450.7 742.4 1453.3 740.9 1456.0 741.4C1458.7 741.9 1461.3 744.4 1464.0 745.0C1466.7 745.6 1469.3 745.0 1472.0 745.0C1474.7 745.0 1477.3 744.2 1480.0 745.0C1482.7 745.8 1485.3 749.2 1488.0 750.0C1490.7 750.8 1493.0 750.3 1496.0 750.0C1499.0 749.7 1503.3 747.8 1506.0 748.0C1508.7 748.2 1509.7 749.7 1512.0 751.0C1514.3 752.3 1517.3 754.9 1520.0 755.6C1522.7 756.3 1525.3 755.3 1528.0 755.0C1530.7 754.7 1533.3 753.7 1536.0 754.0C1538.7 754.3 1541.3 756.1 1544.0 757.0C1546.7 757.9 1549.3 759.1 1552.0 759.4C1554.7 759.7 1557.3 758.9 1560.0 759.0C1562.7 759.1 1565.3 759.3 1568.0 760.0C1570.7 760.7 1573.0 762.1 1576.0 763.0C1579.0 763.9 1583.0 764.8 1586.0 765.4C1589.0 766.0 1591.4 766.4 1594.0 766.4C1596.6 766.4 1600.4 765.7 1601.7 765.6" stroke="#c271e2"/>
<path d="M229.0 812.0C234.2 811.8 251.5 811.3 260.0 811.0C268.5 810.7 274.0 810.4 280.0 810.4C286.0 810.4 291.3 811.5 296.0 811.0C300.7 810.5 304.0 808.1 308.0 807.6C312.0 807.1 316.7 808.1 320.0 808.0C323.3 807.9 325.7 807.9 328.0 807.0C330.3 806.1 331.7 803.4 334.0 802.4C336.3 801.4 339.7 800.6 342.0 801.0C344.3 801.4 345.0 803.8 348.0 805.0C351.0 806.2 356.0 807.2 360.0 808.0C364.0 808.8 368.7 809.2 372.0 809.6C375.3 810.0 376.7 811.3 380.0 810.4C383.3 809.5 388.7 804.2 392.0 804.0C395.3 803.8 397.3 808.7 400.0 809.0C402.7 809.3 404.7 806.4 408.0 806.0C411.3 805.6 416.0 807.1 420.0 806.6C424.0 806.1 428.0 803.8 432.0 803.0C436.0 802.2 440.0 801.7 444.0 801.6C448.0 801.5 452.7 802.3 456.0 802.4C459.3 802.5 461.0 802.9 464.0 802.0C467.0 801.1 470.7 797.3 474.0 797.0C477.3 796.7 480.3 800.0 484.0 800.0C487.7 800.0 492.3 797.3 496.0 797.0C499.7 796.7 502.0 798.1 506.0 798.0C510.0 797.9 515.0 796.7 520.0 796.4C525.0 796.1 530.3 796.6 536.0 796.4C541.7 796.2 547.7 795.1 554.0 795.0C560.3 794.9 569.0 796.1 574.0 796.0C579.0 795.9 579.0 794.6 584.0 794.4C589.0 794.2 597.3 795.0 604.0 795.0C610.7 795.0 618.2 794.6 624.0 794.6C629.8 794.6 636.0 796.1 639.0 795.0C642.0 793.9 641.0 791.3 642.0 788.0C643.0 784.7 643.7 777.4 645.0 775.0C646.3 772.6 648.5 772.4 650.0 773.6C651.5 774.8 652.7 778.2 654.0 782.0C655.3 785.8 656.0 793.9 658.0 796.4C660.0 798.9 663.0 796.5 666.0 797.0C669.0 797.5 672.0 799.0 676.0 799.4C680.0 799.8 686.0 799.3 690.0 799.6C694.0 799.9 696.0 800.7 700.0 801.0C704.0 801.3 709.3 801.4 714.0 801.6C718.7 801.8 723.7 802.1 728.0 802.4C732.3 802.7 736.0 803.6 740.0 803.6C744.0 803.6 747.0 802.7 752.0 802.4C757.0 802.1 765.3 802.0 770.0 802.0C774.7 802.0 777.0 802.5 780.0 802.4C783.0 802.3 784.0 801.7 788.0 801.6C792.0 801.5 798.3 802.1 804.0 802.0C809.7 801.9 817.0 801.0 822.0 801.0C827.0 801.0 828.7 801.9 834.0 802.0C839.3 802.1 846.3 801.6 854.0 801.6C861.7 801.6 872.3 802.0 880.0 802.0C887.7 802.0 893.3 801.6 900.0 801.4C906.7 801.2 913.3 800.7 920.0 800.6C926.7 800.5 933.3 801.0 940.0 801.0C946.7 801.0 953.3 800.6 960.0 800.6C966.7 800.6 974.7 801.2 980.0 801.0C985.3 800.8 988.0 799.7 992.0 799.4C996.0 799.1 1000.0 799.2 1004.0 799.0C1008.0 798.8 1012.0 798.1 1016.0 798.0C1020.0 797.9 1024.0 798.4 1028.0 798.6C1032.0 798.8 1036.0 798.9 1040.0 799.0C1044.0 799.1 1049.0 798.8 1052.0 799.4C1055.0 800.0 1056.0 801.9 1058.0 802.4C1060.0 802.9 1062.0 802.7 1064.0 802.4C1066.0 802.1 1067.7 800.3 1070.0 800.6C1072.3 800.9 1075.7 803.1 1078.0 804.0C1080.3 804.9 1081.7 805.8 1084.0 806.0C1086.3 806.2 1089.3 805.3 1092.0 805.0C1094.7 804.7 1095.3 804.2 1100.0 804.0C1104.7 803.8 1113.3 803.6 1120.0 803.6C1126.7 803.6 1135.0 803.9 1140.0 804.0C1145.0 804.1 1146.0 804.6 1150.0 804.4C1154.0 804.2 1159.3 802.7 1164.0 802.6C1168.7 802.5 1173.0 803.9 1178.0 803.6C1183.0 803.3 1188.7 801.3 1194.0 801.0C1199.3 800.7 1204.7 801.9 1210.0 802.0C1215.3 802.1 1221.3 801.5 1226.0 801.6C1230.7 801.7 1234.0 801.9 1238.0 802.4C1242.0 802.9 1245.3 803.9 1250.0 804.4C1254.7 804.9 1260.7 805.2 1266.0 805.6C1271.3 806.0 1276.0 806.9 1282.0 807.0C1288.0 807.1 1295.7 806.0 1302.0 806.0C1308.3 806.0 1313.7 806.8 1320.0 807.0C1326.3 807.2 1334.0 806.9 1340.0 807.0C1346.0 807.1 1350.0 807.3 1356.0 807.4C1362.0 807.5 1369.3 807.6 1376.0 807.6C1382.7 807.6 1389.3 807.3 1396.0 807.4C1402.7 807.5 1409.3 808.0 1416.0 808.0C1422.7 808.0 1431.3 807.6 1436.0 807.6C1440.7 807.6 1441.3 807.9 1444.0 808.0C1446.7 808.1 1449.3 808.5 1452.0 808.4C1454.7 808.3 1456.0 807.7 1460.0 807.6C1464.0 807.5 1470.0 807.5 1476.0 807.6C1482.0 807.7 1489.3 807.9 1496.0 808.0C1502.7 808.1 1509.3 808.5 1516.0 808.4C1522.7 808.3 1531.0 807.8 1536.0 807.6C1541.0 807.4 1542.7 807.3 1546.0 807.4C1549.3 807.5 1552.7 808.0 1556.0 808.0C1559.3 808.0 1562.7 807.6 1566.0 807.6C1569.3 807.6 1572.7 808.0 1576.0 808.0C1579.3 808.0 1582.7 807.6 1586.0 807.4C1589.3 807.2 1593.4 807.0 1596.0 807.0C1598.6 807.0 1600.8 807.3 1601.7 807.4" stroke="#df9c07"/>
<path d="M229.0 817.0C234.2 816.8 251.5 816.1 260.0 815.6C268.5 815.1 273.3 814.4 280.0 814.0C286.7 813.6 293.3 813.3 300.0 813.0C306.7 812.7 313.3 812.7 320.0 812.4C326.7 812.1 334.0 811.6 340.0 811.0C346.0 810.4 351.7 810.3 356.0 809.0C360.3 807.7 362.7 803.8 366.0 803.0C369.3 802.2 372.7 803.9 376.0 804.4C379.3 804.9 382.0 805.9 386.0 806.0C390.0 806.1 394.3 805.7 400.0 805.0C405.7 804.3 414.0 803.0 420.0 802.0C426.0 801.0 431.7 800.0 436.0 799.0C440.3 798.0 442.3 797.0 446.0 796.0C449.7 795.0 453.7 794.8 458.0 793.0C462.3 791.2 466.7 787.3 472.0 785.0C477.3 782.7 484.3 781.2 490.0 779.0C495.7 776.8 501.0 773.8 506.0 772.0C511.0 770.2 515.0 769.6 520.0 768.0C525.0 766.4 530.3 763.6 536.0 762.4C541.7 761.2 549.3 761.8 554.0 761.0C558.7 760.2 560.7 758.3 564.0 757.6C567.3 756.9 570.7 757.3 574.0 757.0C577.3 756.7 581.0 756.2 584.0 756.0C587.0 755.8 589.3 755.5 592.0 755.6C594.7 755.7 597.0 756.2 600.0 756.6C603.0 757.0 607.0 757.2 610.0 758.0C613.0 758.8 615.0 760.6 618.0 761.6C621.0 762.6 624.7 762.8 628.0 764.0C631.3 765.2 634.7 767.2 638.0 769.0C641.3 770.8 644.7 773.0 648.0 775.0C651.3 777.0 654.7 779.0 658.0 781.0C661.3 783.0 664.7 785.2 668.0 787.0C671.3 788.8 675.0 790.6 678.0 792.0C681.0 793.4 683.3 794.9 686.0 795.6C688.7 796.3 691.3 796.0 694.0 796.0C696.7 796.0 699.0 795.5 702.0 795.6C705.0 795.7 708.7 796.5 712.0 796.6C715.3 796.7 718.7 796.1 722.0 796.4C725.3 796.7 728.7 797.6 732.0 798.4C735.3 799.2 738.7 800.1 742.0 801.0C745.3 801.9 748.7 802.9 752.0 803.6C755.3 804.3 759.0 804.6 762.0 805.0C765.0 805.4 766.3 805.8 770.0 806.0C773.7 806.2 778.3 805.9 784.0 806.0C789.7 806.1 797.3 806.2 804.0 806.4C810.7 806.6 817.3 807.4 824.0 807.4C830.7 807.4 837.3 806.8 844.0 806.6C850.7 806.4 856.3 806.3 864.0 806.4C871.7 806.5 884.0 806.9 890.0 807.0C896.0 807.1 896.7 806.8 900.0 807.0C903.3 807.2 906.7 807.9 910.0 808.0C913.3 808.1 916.7 807.4 920.0 807.4C923.3 807.4 926.7 808.0 930.0 808.0C933.3 808.0 935.0 807.6 940.0 807.4C945.0 807.2 954.7 807.2 960.0 807.0C965.3 806.8 968.0 806.3 972.0 806.0C976.0 805.7 980.0 805.4 984.0 805.0C988.0 804.6 992.3 803.9 996.0 803.4C999.7 802.9 1003.0 802.6 1006.0 802.0C1009.0 801.4 1011.7 800.1 1014.0 799.6C1016.3 799.1 1017.7 799.0 1020.0 799.2C1022.3 799.4 1025.3 800.0 1028.0 801.0C1030.7 802.0 1033.0 803.8 1036.0 805.0C1039.0 806.2 1042.0 807.3 1046.0 808.0C1050.0 808.7 1055.0 808.7 1060.0 809.0C1065.0 809.3 1070.7 809.4 1076.0 809.6C1081.3 809.8 1087.3 810.4 1092.0 810.4C1096.7 810.4 1099.7 809.5 1104.0 809.6C1108.3 809.7 1113.3 811.1 1118.0 811.0C1122.7 810.9 1127.7 809.1 1132.0 809.0C1136.3 808.9 1141.0 810.2 1144.0 810.4C1147.0 810.6 1146.3 810.1 1150.0 810.0C1153.7 809.9 1161.0 809.4 1166.0 809.6C1171.0 809.8 1174.3 810.8 1180.0 811.0C1185.7 811.2 1194.3 811.1 1200.0 811.0C1205.7 810.9 1210.0 810.4 1214.0 810.6C1218.0 810.8 1221.0 812.0 1224.0 812.0C1227.0 812.0 1229.0 810.4 1232.0 810.4C1235.0 810.4 1238.3 812.1 1242.0 812.0C1245.7 811.9 1249.3 809.9 1254.0 809.6C1258.7 809.3 1265.3 809.8 1270.0 810.0C1274.7 810.2 1278.0 811.1 1282.0 811.0C1286.0 810.9 1289.3 809.6 1294.0 809.6C1298.7 809.6 1304.7 810.9 1310.0 811.0C1315.3 811.1 1321.7 810.0 1326.0 810.0C1330.3 810.0 1332.7 810.9 1336.0 811.0C1339.3 811.1 1342.7 810.7 1346.0 810.4C1349.3 810.1 1351.0 809.2 1356.0 809.0C1361.0 808.8 1369.3 809.2 1376.0 809.4C1382.7 809.6 1389.3 809.7 1396.0 810.0C1402.7 810.3 1410.7 810.7 1416.0 811.0C1421.3 811.3 1424.0 811.6 1428.0 812.0C1432.0 812.4 1436.0 813.4 1440.0 813.6C1444.0 813.8 1448.7 813.7 1452.0 813.0C1455.3 812.3 1456.0 809.9 1460.0 809.4C1464.0 808.9 1471.3 809.7 1476.0 810.0C1480.7 810.3 1484.0 811.0 1488.0 811.0C1492.0 811.0 1495.3 809.8 1500.0 810.0C1504.7 810.2 1511.3 812.6 1516.0 812.4C1520.7 812.2 1525.0 808.9 1528.0 809.0C1531.0 809.1 1531.3 812.8 1534.0 813.0C1536.7 813.2 1541.0 810.0 1544.0 810.0C1547.0 810.0 1549.0 813.2 1552.0 813.0C1555.0 812.8 1558.7 809.2 1562.0 809.0C1565.3 808.8 1567.7 810.9 1572.0 811.6C1576.3 812.3 1584.0 812.9 1588.0 813.0C1592.0 813.1 1593.7 812.1 1596.0 812.0C1598.3 811.9 1600.8 812.3 1601.7 812.4" stroke="#0dcfd1"/>
</g>
<g stroke-width="5.2" stroke-linecap="round">
<line x1="1218.0" y1="95.2" x2="1330.5" y2="95.2" stroke="#4f4f4f"/>
<line x1="1218.0" y1="148.4" x2="1330.5" y2="148.4" stroke="#fd3a3c"/>
<line x1="1218.0" y1="201.6" x2="1330.5" y2="201.6" stroke="#0a68e4"/>
<line x1="1218.0" y1="254.7" x2="1330.5" y2="254.7" stroke="#0aad6b"/>
<line x1="1218.0" y1="307.9" x2="1330.5" y2="307.9" stroke="#c271e2"/>
<line x1="1218.0" y1="361.0" x2="1330.5" y2="361.0" stroke="#df9c07"/>
<line x1="1218.0" y1="414.1" x2="1330.5" y2="414.1" stroke="#0dcfd1"/>
</g>
<text transform="translate(1339.50 108.85) scale(1.1410 1.0000)" font-size="30.00" text-anchor="start">FURAN</text>
<text transform="translate(1339.50 162.00) scale(1.1410 1.0000)" font-size="30.00" text-anchor="start">FURAN-5</text>
<text transform="translate(1339.50 215.15) scale(1.1410 1.0000)" font-size="30.00" text-anchor="start">FURAN-10</text>
<text transform="translate(1339.50 268.30) scale(1.1410 1.0000)" font-size="30.00" text-anchor="start">FURAN-15</text>
<text transform="translate(1339.50 321.45) scale(1.1410 1.0000)" font-size="30.00" text-anchor="start">FURAN-20</text>
<text transform="translate(1339.50 374.60) scale(1.1410 1.0000)" font-size="30.00" text-anchor="start">HGM</text>
<text transform="translate(1339.50 427.75) scale(1.1410 1.0000)" font-size="30.00" text-anchor="start">modified HGM</text>
<text transform="translate(320.75 1052.60) scale(1.1350 1.0000)" font-size="51.70" text-anchor="middle">100</text>
<text transform="translate(504.86 1052.60) scale(1.1350 1.0000)" font-size="51.70" text-anchor="middle">200</text>
<text transform="translate(688.97 1052.60) scale(1.1350 1.0000)" font-size="51.70" text-anchor="middle">300</text>
<text transform="translate(873.07 1052.60) scale(1.1350 1.0000)" font-size="51.70" text-anchor="middle">400</text>
<text transform="translate(1057.18 1052.60) scale(1.1350 1.0000)" font-size="51.70" text-anchor="middle">500</text>
<text transform="translate(1241.29 1052.60) scale(1.1350 1.0000)" font-size="51.70" text-anchor="middle">600</text>
<text transform="translate(1425.39 1052.60) scale(1.1350 1.0000)" font-size="51.70" text-anchor="middle">700</text>
<text transform="translate(1609.50 1052.60) scale(1.1350 1.0000)" font-size="51.70" text-anchor="middle">800</text>
<text transform="translate(205.70 817.34) scale(1.1350 1.0000)" font-size="51.70" text-anchor="end">0.0</text>
<text transform="translate(205.70 436.32) scale(1.1350 1.0000)" font-size="51.70" text-anchor="end">0.1</text>
<text transform="translate(205.70 55.30) scale(1.1350 1.0000)" font-size="51.70" text-anchor="end">0.2</text>
<text transform="translate(701.00 1159.00) scale(1.1980 1.0000)" font-size="51.00" text-anchor="start">Temperature<tspan font-size="46.0" dx="2.0" dy="-3.5">(</tspan><tspan font-family="'Liberation Serif','DejaVu Serif','Noto Serif CJK SC',serif" font-weight="normal" font-size="46.0" dy="2.7" dx="-1.6">℃</tspan><tspan font-size="46.0" dy="-2.7" dx="-1.2">)</tspan></text>
<text transform="translate(68.00 767.50) rotate(-90) scale(0.9830 1.1500)" font-size="51.00" text-anchor="start">Derivative Weight(mg.s<tspan font-size="34.0" dy="-20.0">-1</tspan><tspan dy="20.0">)</tspan></text>
</svg></body></html>
